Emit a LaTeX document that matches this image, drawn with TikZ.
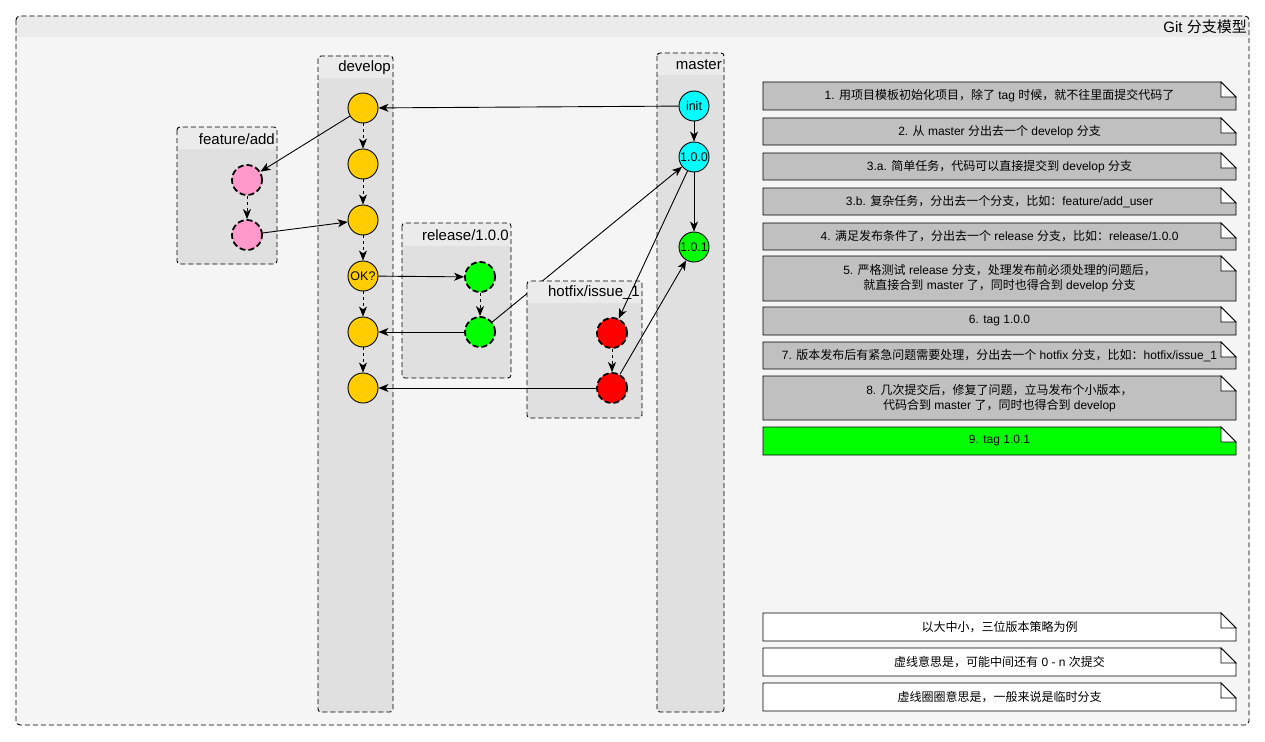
\documentclass[tikz,border=0pt]{standalone}
\usepackage{fontspec}
\setmainfont{Liberation Sans}
\newfontfamily\cjk{Noto Sans CJK SC}
\usetikzlibrary{arrows.meta}
\pgfdeclarelayer{lanes}
\pgfdeclarelayer{mid}
\pgfdeclarelayer{hot}
\pgfsetlayers{lanes,mid,hot,main}

\definecolor{outerhdr}{HTML}{EBEBEB}
\definecolor{outerbody}{HTML}{F5F5F5}
\definecolor{lanehdr}{HTML}{EBEBEB}
\definecolor{lanebody}{HTML}{E0E0E0}
\definecolor{devc}{HTML}{FFCC00}
\definecolor{masc}{HTML}{00FFFF}
\definecolor{grnc}{HTML}{00FF00}
\definecolor{pinkc}{HTML}{FF99CC}
\definecolor{redc}{HTML}{FF0000}
\definecolor{notec}{HTML}{C0C0C0}

\newcommand\lane[7]{% name,x1,y1,x2,yh,y2,label
  \fill[lanebody, rounded corners=3pt] (#2,#3) rectangle (#4,#6);
  \fill[lanehdr] (#2,#5) [rounded corners=3pt] -- (#2,#3) -- (#4,#3) [sharp corners] -- (#4,#5) -- cycle;
  \draw[lanebox] (#2,#3) rectangle (#4,#6);
  \node[lanelabel] (#1) at (#4-2,{(#3+#5)/2+1}) {#7};
}
\newcommand\notebox[5]{% name, ytop, ybot, fill, text
  \filldraw[fill=#4, draw=black, line width=0.9pt] (763,#2) -- (1221,#2) -- (1236,#2+15) -- (1236,#3) -- (763,#3) -- cycle;
  \filldraw[fill=white, draw=black, line width=0.9pt, line join=miter] (1221,#2) -- (1221,#2+15) -- (1236,#2+15) -- cycle;
  \node[notetext] (#1) at (999.5,{(#2+#3)/2}) {#5};
}

\begin{document}
\begin{tikzpicture}[x=1pt,y=-1pt,
  commit/.style={circle, draw=black, line width=0.9pt, minimum size=30pt, inner sep=0pt, font=\fontsize{12.5}{14}\selectfont},
  tempcommit/.style={commit, line width=1.8pt, dash pattern=on 6pt off 3pt},
  link/.style={draw=black, line width=0.9pt, -{Stealth[length=10pt,width=8pt,inset=2.8pt]}},
  chain/.style={link, dash pattern=on 3pt off 3pt},
  lanebox/.style={draw=black, dash pattern=on 5pt off 3pt, line width=0.9pt, rounded corners=3pt},
  lanelabel/.style={anchor=east, inner sep=0pt, font=\fontsize{15}{17}\selectfont},
  notetext/.style={align=center, inner sep=0pt, font=\fontsize{12}{15}\selectfont},
]
\useasboundingbox (0,0) rectangle (1265,741);

\begin{pgfonlayer}{lanes}
  \fill[white] (0,0) rectangle (1265,741);
  \fill[outerbody, rounded corners=4pt] (16,16) rectangle (1249,725);
  \fill[outerhdr] (16,37) [rounded corners=4pt] -- (16,16) -- (1249,16) [sharp corners] -- (1249,37) -- cycle;
  \draw[lanebox, rounded corners=4pt] (16,16) rectangle (1249,725);
  \node[anchor=east, inner sep=0pt, font=\fontsize{15}{17}\selectfont] (title) at (1247,27) {Git {\cjk 分支模型}};
  \lane{developlbl}{318}{56}{393}{78}{712}{develop}
  \lane{masterlbl}{657}{53}{724}{75}{712}{master}
  \lane{featurelbl}{177}{127}{277}{149}{264}{feature/add}
  \lane{releaselbl}{402}{223}{511}{246}{378}{release/1.0.0}
\end{pgfonlayer}
\begin{pgfonlayer}{hot}
  \lane{hotfixlbl}{527}{281}{642}{303}{418}{hotfix/issue\_1}
\end{pgfonlayer}

% commits
\node[commit, fill=devc] (d1) at (363,108) {};
\node[commit, fill=devc] (d2) at (363,164) {};
\node[commit, fill=devc] (d3) at (363,220) {};
\node[commit, fill=devc] (ok) at (363,276) {OK?};
\node[commit, fill=devc] (d5) at (363,332) {};
\node[commit, fill=devc] (d6) at (363,388) {};
\node[commit, fill=masc] (init) at (694,106) {init};
\node[commit, fill=masc] (v100) at (694,157) {1.0.0};
\node[commit, fill=grnc] (v101) at (694,247) {1.0.1};
\node[tempcommit, fill=pinkc] (f1) at (247,180) {};
\node[tempcommit, fill=pinkc] (f2) at (247,235) {};
\node[tempcommit, fill=grnc] (r1) at (480,277) {};
\node[tempcommit, fill=grnc] (r2) at (480,332) {};
\node[tempcommit, fill=redc] (h1) at (612,333) {};
\node[tempcommit, fill=redc] (h2) at (612,388) {};

% connectors
\draw[link] (init) -- (d1);
\draw[link] (d1) -- (f1);
\draw[chain] (f1) -- (f2);
\draw[link] (f2) -- (d3);
\draw[chain] (d1) -- (d2);
\draw[chain] (d2) -- (d3);
\draw[chain] (d3) -- (ok);
\draw[chain] (ok) -- (d5);
\draw[chain] (d5) -- (d6);
\draw[link] (ok) -- (r1);
\draw[chain] (r1) -- (r2);
\draw[link] (r2) -- (d5);
\begin{pgfonlayer}{mid}
  \draw[link] (r2) -- (v100);
\end{pgfonlayer}
\draw[link] (init) -- (v100);
\draw[link] (v100) -- (v101);
\draw[link] (v100) -- (h1);
\draw[chain] (h1) -- (h2);
\draw[link] (h2) -- (v101);
\draw[link] (h2) -- (d6);

% notes
\notebox{n1}{82}{110}{notec}{1. {\cjk 用项目模板初始化项目，除了} tag {\cjk 时候，就不往里面提交代码了}}
\notebox{n2}{118}{145}{notec}{2. {\cjk 从} master {\cjk 分出去一个} develop {\cjk 分支}}
\notebox{n3}{153}{180}{notec}{3.a. {\cjk 简单任务，代码可以直接提交到} develop {\cjk 分支}}
\notebox{n4}{188}{215}{notec}{3.b. {\cjk 复杂任务，分出去一个分支，比如：}feature/add\_user}
\notebox{n5}{223}{250}{notec}{4. {\cjk 满足发布条件了，分出去一个} release {\cjk 分支，比如：}release/1.0.0}
\notebox{n6}{256}{301}{notec}{5. {\cjk 严格测试} release {\cjk 分支，处理发布前必须处理的问题后，}\\{\cjk 就直接合到} master {\cjk 了，同时也得合到} develop {\cjk 分支}}
\notebox{n7}{307}{335}{notec}{6. tag 1.0.0}
\notebox{n8}{342}{369}{notec}{7. {\cjk 版本发布后有紧急问题需要处理，分出去一个} hotfix {\cjk 分支，比如：}hotfix/issue\_1}
\notebox{n9}{376}{420}{notec}{8. {\cjk 几次提交后，修复了问题，立马发布个小版本，}\\{\cjk 代码合到} master {\cjk 了，同时也得合到} develop}
\notebox{n10}{427}{455}{grnc}{9. tag 1.0.1}
\notebox{m1}{613}{641}{white}{{\cjk 以大中小，三位版本策略为例}}
\notebox{m2}{648}{676}{white}{{\cjk 虚线意思是，可能中间还有} 0 - n {\cjk 次提交}}
\notebox{m3}{683}{711}{white}{{\cjk 虚线圈圈意思是，一般来说是临时分支}}
\end{tikzpicture}
\end{document}
